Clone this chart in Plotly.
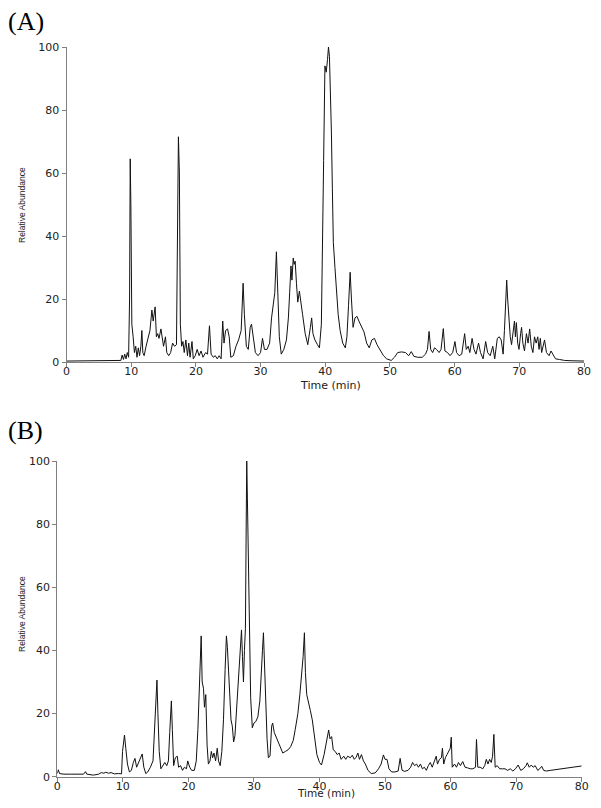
import plotly.graph_objects as go

# Chromatogram (A): retention time (min) and relative abundance (%)
time_a = [0, 8.0, 8.4, 8.6, 8.8, 9.0, 9.2, 9.4, 9.6, 9.75, 9.85, 9.95, 10.1, 10.3, 10.5, 10.7, 10.9,
          11.1, 11.3, 11.5, 11.65, 11.8, 12.0, 12.3, 12.6, 12.9, 13.2, 13.4, 13.7, 13.9, 14.1, 14.3,
          14.6, 14.8, 15.0, 15.3, 15.5, 15.8, 16.1, 16.4, 16.7, 17.0, 17.15, 17.3, 17.45, 17.6, 17.8,
          18.0, 18.2, 18.45, 18.7, 18.9, 19.1, 19.4, 19.6, 19.9, 20.2, 20.5, 20.8, 21.1, 21.5, 21.8,
          22.1, 22.35, 22.7, 23.0, 23.3, 23.6, 23.9, 24.15, 24.35, 24.6, 24.9, 25.15, 25.4, 25.8,
          26.2, 26.6, 27.0, 27.3, 27.5, 27.8, 28.1, 28.4, 28.6, 28.9, 29.2, 29.6, 30.0, 30.3, 30.6,
          31.0, 31.4, 31.7, 32.0, 32.2, 32.45, 32.65, 32.9, 33.2, 33.6, 34.0, 34.3, 34.5, 34.7, 34.85,
          35.05, 35.2, 35.35, 35.55, 35.75, 36.0, 36.2, 36.5, 36.9, 37.3, 37.7, 37.9, 38.1, 38.4, 38.8,
          39.1, 39.4, 39.6, 39.75, 39.95, 40.15, 40.35, 40.5, 40.65, 40.8, 40.95, 41.1, 41.25, 41.5,
          41.75, 42.0, 42.3, 42.7, 43.1, 43.35, 43.6, 43.85, 44.05, 44.3, 44.6, 44.9, 45.2, 45.6, 46.0,
          46.4, 46.8, 47.2, 47.6, 48.0, 48.5, 49.0, 49.5, 50.2, 50.7, 51.2, 51.8, 52.4, 52.9, 53.3,
          53.7, 54.3, 55.0, 55.5, 55.8, 56.05, 56.3, 56.6, 56.9, 57.2, 57.6, 57.9, 58.25, 58.5, 58.9,
          59.3, 59.7, 60.05, 60.3, 60.7, 61.1, 61.55, 61.8, 62.1, 62.35, 62.7, 63.0, 63.3, 63.7, 64.0,
          64.4, 64.8, 65.1, 65.5, 65.9, 66.2, 66.6, 66.9, 67.2, 67.5, 67.7, 67.9, 68.05, 68.2, 68.35,
          68.6, 68.8, 69.05, 69.25, 69.4, 69.55, 69.75, 69.95, 70.2, 70.35, 70.55, 70.8, 71.1, 71.35,
          71.6, 71.85, 72.1, 72.35, 72.6, 72.85, 73.05, 73.25, 73.45, 73.7, 73.9, 74.2, 74.6, 74.9,
          75.2, 75.6, 76.2, 77.0, 78.0, 80.0]
abund_a = [0.3, 0.3, 0.5, 2.2, 0.8, 2.5, 1.0, 3.0, 1.5, 20, 64.5, 50, 12, 8, 3, 5, 1.5,
           4.5, 2, 5, 10, 3, 2, 5, 8, 10, 16.5, 13, 17.5, 8, 9, 7.5,
           10.5, 7, 5, 8, 3, 2, 3, 6, 5, 5.5, 30, 71.5, 60, 12, 5,
           6.5, 3, 7, 2, 6, 1.5, 6.5, 1, 2, 4, 2, 3.5, 1.5, 3, 2.5,
           11.5, 2.5, 1.5, 2, 1, 2, 1, 13, 6, 10, 10.5, 8, 1.5, 2,
           5, 7, 10, 25, 15, 5, 4, 11, 12, 8, 3, 2, 3, 7.5, 4,
           4, 6, 14, 19, 22, 35, 20, 8, 2.5, 4, 7, 14, 22, 30.5, 26,
           33, 31, 32, 25, 19, 22.5, 20, 15, 9, 5.5, 11, 14, 9, 7, 5.5,
           4.5, 12, 35, 64, 94, 92, 96, 100, 97, 88, 73, 55, 38, 30,
           21, 15, 10, 6, 4.5, 8, 18, 28.5, 20, 11, 14, 14.5, 13, 11, 9.5,
           6, 4.5, 7, 7.5, 5.5, 3.5, 2, 1, 0.5, 1.5, 3, 3.2, 3, 2, 3.3,
           1.8, 1.5, 1.5, 2.5, 4, 9.7, 4, 3, 4.5, 4, 3, 4, 10.6, 3.5, 3,
           2, 3, 6.5, 3, 2, 2.5, 9, 4, 5, 3, 7.5, 4, 2.5, 6, 3,
           1, 6.5, 3, 2, 5, 1, 7.5, 8, 7, 2.5, 10, 17, 26, 20, 15,
           8, 5.5, 10, 13, 8, 12.5, 6, 4, 9, 11, 6, 3.5, 9, 6,
           10.5, 5, 3, 8, 6, 8, 4, 7.5, 3, 6, 7, 3, 2, 3.5,
           2.5, 1, 0.8, 0.5, 0.4, 0.3]

# Chromatogram (B)
time_b = [0.0, 0.15, 0.35, 1.0, 2.0, 3.0, 4.0, 4.3, 4.5, 5.5, 6.3, 6.7, 7.1, 7.4, 7.8, 8.2, 8.7, 9.3,
          9.8, 9.95, 10.1, 10.25, 10.45, 10.7, 11.0, 11.3, 11.6, 11.85, 12.1, 12.4, 12.7, 12.95, 13.2,
          13.5, 13.8, 14.2, 14.6, 14.85, 15.05, 15.2, 15.35, 15.55, 15.8, 16.1, 16.4, 16.7, 16.95,
          17.15, 17.4, 17.55, 17.75, 18.0, 18.3, 18.5, 18.8, 19.1, 19.4, 19.7, 19.9, 20.2, 20.5, 20.9,
          21.2, 21.45, 21.65, 21.85, 21.95, 22.1, 22.3, 22.45, 22.65, 22.85, 23.05, 23.3, 23.5, 23.7,
          23.9, 24.15, 24.4, 24.6, 24.85, 25.1, 25.35, 25.6, 25.8, 25.95, 26.15, 26.3, 26.5, 26.7,
          26.9, 27.1, 27.3, 27.45, 27.65, 27.8, 27.95, 28.1, 28.25, 28.4, 28.55, 28.7, 28.8, 28.9,
          29.0, 29.15, 29.3, 29.5, 29.75, 30.0, 30.3, 30.6, 30.9, 31.1, 31.3, 31.45, 31.6, 31.8, 32.0,
          32.2, 32.45, 32.7, 32.85, 33.1, 33.4, 33.7, 34.0, 34.4, 34.8, 35.2, 35.6, 36.0, 36.3, 36.7,
          37.0, 37.3, 37.5, 37.7, 37.85, 38.05, 38.3, 38.6, 38.9, 39.2, 39.6, 40.0, 40.3, 40.7, 41.0,
          41.4, 41.6, 41.85, 42.1, 42.4, 42.7, 43.0, 43.3, 43.7, 44.0, 44.3, 44.7, 45.0, 45.3, 45.6,
          45.85, 46.1, 46.4, 46.7, 47.0, 47.4, 47.9, 48.5, 49.0, 49.4, 49.75, 50.0, 50.3, 50.6, 51.0,
          51.5, 52.0, 52.3, 52.6, 53.0, 53.5, 53.9, 54.2, 54.5, 54.8, 55.1, 55.4, 55.7, 56.0, 56.3,
          56.6, 56.9, 57.2, 57.5, 57.8, 58.0, 58.3, 58.6, 58.75, 58.95, 59.2, 59.45, 59.7, 59.95, 60.1,
          60.25, 60.6, 60.9, 61.2, 61.5, 61.85, 62.2, 62.6, 63.0, 63.4, 63.8, 63.95, 64.15, 64.5, 64.9,
          65.2, 65.45, 65.7, 65.95, 66.2, 66.4, 66.6, 66.8, 67.1, 67.5, 67.9, 68.3, 68.7, 69.1, 69.5,
          69.9, 70.3, 70.7, 71.1, 71.5, 71.7, 72.0, 72.3, 72.6, 72.9, 73.3, 73.6, 73.9, 74.2, 74.6,
          75.2, 75.8, 76.4, 77.0, 77.6, 78.2, 78.8, 79.4, 80.0]
abund_b = [1.0, 2.2, 1.0, 0.8, 0.8, 0.8, 0.8, 1.6, 0.8, 0.5, 0.8, 1.3, 1.1, 1.4, 1.1, 1.3, 0.9, 1.0,
           0.9, 8, 11, 13.2, 9, 4, 1.5, 2, 4.5, 5.8, 3, 4.5, 6.5, 7.2, 3,
           1, 1.5, 3, 5, 15, 25, 30.6, 20, 8, 2.5, 3.5, 4.5, 3.5, 5,
           14, 24, 15, 3.5, 6, 6.5, 3, 3.5, 2, 3, 2.5, 5, 3, 2, 2,
           5, 15, 30, 40, 44.6, 30, 28, 22, 26, 10, 4, 5, 8, 6,
           7.5, 5, 9, 5, 3.5, 8, 18, 34, 44.6, 41, 32, 24, 18, 16,
           11, 13, 20, 25, 30, 38, 42, 46.5, 38, 30, 40, 47, 75, 100,
           88, 65, 45, 25, 15.5, 17, 17.5, 19, 24, 35, 40, 45.6, 35, 24, 12,
           6, 6.5, 16, 17, 14, 12.5, 10.5, 9, 7.5, 8, 8.5, 9.5, 11.5, 15, 20,
           26, 32, 38, 45.6, 33, 26, 24, 21, 18, 13, 7, 4.5, 3.7, 7, 10,
           14.8, 12, 12.7, 8.5, 8, 7, 7.5, 5.5, 6.5, 5.5, 6.5, 6, 6.8, 5.5, 6.2,
           7.5, 5.5, 7, 5, 4, 2, 1, 1.2, 2.5, 4, 6.9, 5.5, 5.5, 2.5, 1.5,
           1.5, 1.8, 5.8, 2, 1.7, 2, 3, 4.5, 3.5, 4, 3, 4, 2.5, 3, 2,
           3.5, 4.5, 3, 5, 6.5, 4, 5.5, 6, 9, 4, 6, 7, 8, 9, 12.5,
           3, 4, 3, 4.5, 3.5, 4.8, 3, 2.8, 2.5, 2.5, 3, 11.8, 3, 3, 2.5,
           3.5, 5.5, 4, 5.5, 4.5, 6.5, 13.4, 3, 3.5, 2.5, 2.5, 2.5, 2, 2.5, 1.8,
           2.5, 3.7, 2, 2.5, 3.5, 4.4, 3, 3.7, 3, 3.5, 2, 2.5, 3.3, 2, 1.8,
           2, 2.2, 2.3, 2.5, 2.8, 3, 3.2, 3.3, 3.4]

x_ticks = [0, 10, 20, 30, 40, 50, 60, 70, 80]
y_ticks = [0, 20, 40, 60, 80, 100]

# the page body has an 8px margin, so the figure is drawn 16px smaller
# and every pixel position below is (reference pixel - 8)
OFF = 8
W, H = 601 - 2 * OFF, 808 - 2 * OFF


def px(v):
    return (v - OFF) / W


def py(v):
    return 1 - (v - OFF) / H


fig = go.Figure()
fig.add_trace(go.Scatter(x=time_a, y=abund_a, mode="lines", line=dict(color="#111111", width=1),
                         xaxis="x", yaxis="y", showlegend=False))
fig.add_trace(go.Scatter(x=time_b, y=abund_b, mode="lines", line=dict(color="#111111", width=1),
                         xaxis="x2", yaxis="y2", showlegend=False))

tick_font = dict(family="DejaVu Sans", size=11, color="#222222")
common_x = dict(range=[0, 80], tickvals=x_ticks, showline=True, linecolor="#808080", linewidth=1,
                ticks="outside", ticklen=4, tickcolor="#808080", showgrid=False, zeroline=False,
                tickfont=tick_font, fixedrange=True, automargin=False, ticklabelstandoff=-5)
common_y = dict(range=[0, 100], tickvals=y_ticks, showline=True, linecolor="#808080", linewidth=1,
                ticks="outside", ticklen=4, tickcolor="#808080", showgrid=False, zeroline=False,
                tickfont=tick_font, fixedrange=True, automargin=False)

fig.update_layout(
    width=W, height=H,
    margin=dict(l=0, r=0, t=0, b=0, autoexpand=False),
    paper_bgcolor="white", plot_bgcolor="white",
    xaxis=dict(common_x, domain=[px(66.5), px(584)], anchor="y"),
    yaxis=dict(common_y, domain=[py(362), py(47)], anchor="x"),
    xaxis2=dict(common_x, domain=[px(57.3), px(581.7)], anchor="y2"),
    yaxis2=dict(common_y, domain=[py(776.7), py(461)], anchor="x2"),
)

ann = []
for lab, yc in [("(A)", 21), ("(B)", 430)]:
    ann.append(dict(text=lab, x=px(6), y=py(yc), xref="paper", yref="paper", xanchor="left",
                    yanchor="middle", showarrow=False,
                    font=dict(family="Liberation Serif", size=26, color="black")))
for yc in [205, 614]:
    ann.append(dict(text="Relative Abundance", x=px(22), y=py(yc), xref="paper", yref="paper",
                    xanchor="center", yanchor="middle", textangle=-90, showarrow=False,
                    font=dict(family="Liberation Sans", size=8.5, color="#222222")))
for xc, yc, fs in [(330, 385, 11), (326, 793, 10.5)]:
    ann.append(dict(text="Time (min)", x=px(xc), y=py(yc), xref="paper", yref="paper",
                    xanchor="center", yanchor="middle", showarrow=False,
                    font=dict(family="DejaVu Sans", size=fs, color="#222222")))
fig.update_layout(annotations=ann)

fig.write_html("out.html")
